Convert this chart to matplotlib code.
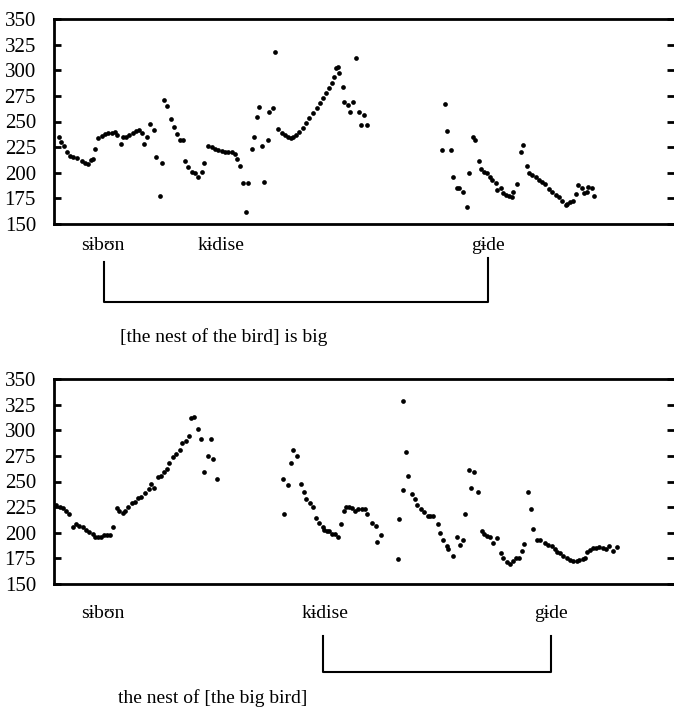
import matplotlib
matplotlib.use("Agg")
import matplotlib.pyplot as plt
from matplotlib.lines import Line2D

plt.rcParams['font.family'] = ['Liberation Serif', 'DejaVu Serif']

# pitch track 1: "[the nest of the bird] is big"
t_top = [59, 61, 64, 67, 70, 73, 77, 82, 85, 88, 91, 93, 95, 98, 102, 105, 108, 112, 115, 117,
         121, 123, 126, 129, 133, 136, 139, 142, 144, 147, 150, 154, 156, 160, 162, 164, 167, 171,
         174, 177, 180, 183, 185, 188, 192, 195, 198, 202, 204, 208, 212, 215, 218, 222, 225, 228,
         232, 235, 237, 240, 243, 248, 246, 252, 254, 257, 259, 262, 264, 268, 269, 273, 275, 278,
         282, 285, 288, 291, 293, 296, 299, 303, 306, 309, 313, 317, 320, 323, 326, 329, 332, 334,
         336, 338, 339, 343, 344, 348, 350, 353, 356, 359, 361, 364, 367,
         442, 445, 447, 451, 453, 457, 459, 463, 467, 469, 473, 475, 479, 481, 484, 487, 490, 492,
         496, 497, 501, 503, 506, 509, 512, 513, 517, 521, 523, 527, 529, 532, 536, 539, 542, 545,
         549, 552, 556, 559, 562, 566, 567, 570, 573, 576, 578, 582, 584, 587, 588, 592, 594]
f0_top = [235, 230, 226, 220, 216, 215, 214, 211, 210, 209, 212, 213, 223, 234, 236, 238, 239, 239,
          240, 237, 228, 235, 235, 237, 239, 241, 242, 239, 228, 235, 248, 242, 215, 177, 210, 271,
          265, 252, 245, 238, 232, 232, 211, 206, 201, 200, 196, 201, 210, 226, 225, 223, 222, 221,
          220, 220, 220, 218, 213, 207, 190, 190, 162, 223, 235, 254, 264, 226, 191, 232, 259, 263,
          318, 243, 239, 237, 235, 234, 235, 237, 240, 244, 249, 253, 258, 263, 268, 273, 278, 283,
          288, 293, 302, 303, 297, 284, 269, 266, 259, 269, 312, 259, 247, 256, 247,
          222, 267, 241, 222, 196, 185, 185, 181, 167, 200, 235, 232, 211, 204, 201, 200, 196, 193,
          190, 183, 185, 180, 178, 177, 176, 181, 189, 220, 227, 207, 200, 198, 196, 193, 191, 189,
          184, 181, 178, 176, 172, 169, 170, 171, 172, 179, 188, 185, 180, 181, 186, 185, 177]

# pitch track 2: "the nest of [the big bird]"
t_bot = [56, 60, 63, 66, 69, 73, 76, 79, 83, 86, 89, 93, 95, 98, 101, 104, 107, 110, 113, 117,
         119, 123, 125, 128, 132, 135, 138, 141, 145, 149, 151, 154, 158, 161, 164, 167, 169, 173,
         176, 180, 182, 186, 189, 191, 194, 198, 201, 204, 208, 211, 213, 217,
         283, 284, 288, 291, 293, 297, 301, 304, 306, 310, 313, 316, 319, 323, 324, 327, 329, 332,
         335, 338, 341, 344, 346, 349, 352, 355, 358, 362, 365, 367, 372, 376, 377, 381,
         398, 399, 403, 403, 406, 408, 412, 415, 417, 421, 424, 428, 430, 433, 438, 440, 443, 447,
         448, 453, 457, 460, 463, 465, 469, 474, 471, 478, 482, 484, 487, 490, 493, 497, 501, 503,
         507, 510, 513, 516, 519, 522, 524, 528, 531, 533, 537, 540, 545, 548, 552, 555, 557, 560,
         563, 567, 570, 573, 577, 579, 583, 585, 587, 590, 593, 596, 599, 603, 606, 609, 613, 617]
f0_bot = [227, 225, 224, 221, 218, 206, 209, 207, 206, 203, 201, 199, 196, 196, 196, 198, 198, 198,
          206, 224, 221, 219, 221, 225, 229, 230, 234, 235, 239, 243, 248, 244, 254, 255, 259, 262,
          268, 274, 277, 281, 288, 290, 294, 312, 313, 301, 291, 259, 275, 291, 272, 252,
          252, 218, 247, 268, 281, 275, 248, 240, 233, 229, 225, 214, 210, 206, 203, 202, 202, 199,
          199, 196, 209, 221, 225, 225, 224, 221, 223, 223, 223, 218, 210, 207, 191, 198,
          174, 213, 329, 242, 279, 255, 238, 233, 227, 223, 220, 216, 216, 216, 209, 200, 193, 187,
          184, 177, 196, 188, 193, 218, 261, 259, 244, 240, 202, 199, 197, 196, 190, 195, 180, 175,
          171, 170, 172, 175, 175, 182, 189, 240, 223, 204, 193, 193, 190, 188, 187, 184, 181, 180,
          177, 175, 173, 172, 172, 173, 174, 175, 181, 183, 185, 185, 186, 185, 184, 187, 182, 186]

yticks = [150, 175, 200, 225, 250, 275, 300, 325, 350]
W, H = 674, 710
FS = 15      # tick labels
FS_TXT = 14  # word labels and captions


def fx(px):
    return px / W


def fy(py):
    return 1 - py / H


def pitch_panel(fig, top_px, t, f0):
    ax = fig.add_axes([fx(54), fy(top_px + 205), 1 - fx(54), 205 / H])
    ax.plot(t, f0, 'o', color='black', markersize=3.4, markeredgewidth=0)
    ax.set_xlim(54, 674)
    ax.set_ylim(150, 350)
    ax.set_yticks(yticks)
    ax.set_xticks([])
    ax.spines['right'].set_visible(False)
    for s in ['left', 'top', 'bottom']:
        ax.spines[s].set_linewidth(2.0)
    ax.tick_params(axis='y', direction='in', length=5, width=2.0, pad=13,
                   right=True, labelsize=FS)
    return ax


def bracket(fig, x0, x1, y0a, y0b, y1):
    kw = dict(color='black', linewidth=1.5, transform=fig.transFigure)
    fig.add_artist(Line2D([fx(x0), fx(x0), fx(x1), fx(x1)],
                          [fy(y0a), fy(y1), fy(y1), fy(y0b)], **kw))


fig = plt.figure(figsize=(W / 100, H / 100), dpi=100)

pitch_panel(fig, 19, t_top, f0_top)
fig.text(fx(103), fy(246), "sɨbʊn", ha='center', va='center', fontsize=FS_TXT)
fig.text(fx(221), fy(246), "kɨdise", ha='center', va='center', fontsize=FS_TXT)
fig.text(fx(488), fy(246), "gɨde", ha='center', va='center', fontsize=FS_TXT)
bracket(fig, 104, 488, 262, 258, 302)
fig.text(fx(120), fy(337), "[the nest of the bird] is big", ha='left', va='center',
         fontsize=FS_TXT)

pitch_panel(fig, 379, t_bot, f0_bot)
fig.text(fx(103), fy(614), "sɨbʊn", ha='center', va='center', fontsize=FS_TXT)
fig.text(fx(325), fy(614), "kɨdise", ha='center', va='center', fontsize=FS_TXT)
fig.text(fx(551), fy(614), "gɨde", ha='center', va='center', fontsize=FS_TXT)
bracket(fig, 323, 551, 636, 636, 672)
fig.text(fx(118), fy(698), "the nest of [the big bird]", ha='left', va='center',
         fontsize=FS_TXT)

fig.savefig("out.png", dpi=100)
